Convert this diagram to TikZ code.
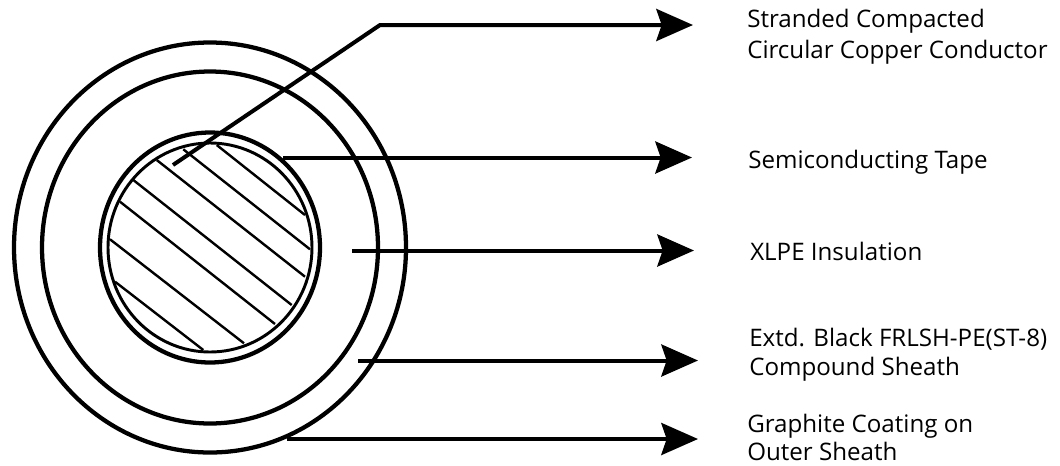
\documentclass[tikz,border=0pt]{standalone}
\usepackage{fontspec}
\setmainfont{Open Sans}
\usetikzlibrary{arrows.meta}
\tikzstyle{ring}=[line width=3.2pt]
\tikzstyle{core}=[line width=2.2pt]
\tikzstyle{hatch}=[line width=1.8pt]
\tikzstyle{arrow}=[line width=3pt, -{Stealth[length=27.5pt, width=24pt, inset=4pt]}]
\tikzstyle{caption}=[anchor=west, align=left, inner sep=0pt, font=\fontsize{18.1pt}{22pt}\selectfont]

\begin{document}
\begin{tikzpicture}[x=0.75pt, y=-0.75pt]
      \useasboundingbox (0,0) rectangle (1060,465);

      \coordinate (centre) at (210,247.5);
      \draw[ring] (centre) ellipse (196 and 205);
      \draw[ring] (centre) ellipse (168 and 176);
      \draw[ring] (centre) ellipse (110 and 115);
      \draw[core] (centre) ellipse (102 and 104.5);

      \draw[hatch] (216.7,145) -- (305,215);
      \draw[hatch] (183.3,149.3) -- (310,249.3);
      \draw[hatch] (156.7,160) -- (305,276.7);
      \draw[hatch] (133.3,180) -- (291.7,305);
      \draw[hatch] (120,201.7) -- (275,324);
      \draw[hatch] (110,239.3) -- (244,343.3);
      \draw[hatch] (115,281.7) -- (203.3,350);

      \coordinate (conductorStart) at (173,165);
      \coordinate (conductorBend) at (380,25);
      \coordinate (conductorTip) at (693,25);
      \coordinate (tapeStart) at (283,157.5);
      \coordinate (tapeTip) at (692,157.5);
      \coordinate (xlpeStart) at (352,250.5);
      \coordinate (xlpeTip) at (694,250.5);
      \coordinate (sheathStart) at (358,360.5);
      \coordinate (sheathTip) at (698,360.5);
      \coordinate (graphiteStart) at (287,439);
      \coordinate (graphiteTip) at (698,439);

      \node[caption] (conductor) at (747,36.5) {Stranded Compacted\\[1pt]Circular Copper Conductor};
      \node[caption] (tape) at (748,162) {Semiconducting Tape};
      \node[caption] (xlpe) at (750,251) {XLPE Insulation};
      \node[caption] (sheath) at (749,354.5) {Extd. Black FRLSH-PE(ST-8)\\Compound Sheath};
      \node[caption] (graphite) at (747,437) {Graphite Coating on\\[-1pt]Outer Sheath};

      \draw[arrow] (conductorStart) -- (conductorBend) -- (conductorTip);
      \draw[arrow] (tapeStart) -- (tapeTip);
      \draw[arrow] (xlpeStart) -- (xlpeTip);
      \draw[arrow] (sheathStart) -- (sheathTip);
      \draw[arrow] (graphiteStart) -- (graphiteTip);

    \end{tikzpicture}
\end{document}
